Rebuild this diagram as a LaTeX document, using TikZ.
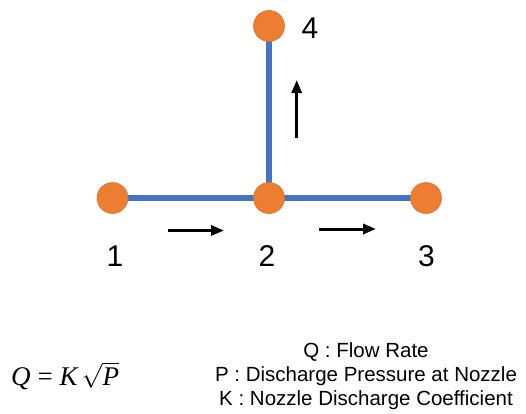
\documentclass[tikz,border=0pt]{standalone}
\usepackage{fontspec}
\setmainfont{Liberation Sans}
\newfontfamily\eqfont{Liberation Serif}
\usetikzlibrary{arrows.meta}
\pgfdeclarelayer{background}
\pgfsetlayers{background,main}
\definecolor{pipeblue}{HTML}{4472C4}
\definecolor{nodeorange}{HTML}{ED7D31}
\definecolor{nodeedge}{HTML}{DE7430}
\tikzset{
  junction/.style={circle, fill=nodeorange, draw=nodeedge, line width=0.6pt, minimum size=31pt, inner sep=0pt},
  pipe/.style={draw=pipeblue, line width=6.5pt},
  flow/.style={draw=black, line width=3pt, -{Triangle[length=13pt,width=10pt]}},
  numlabel/.style={font=\fontsize{30}{30}\selectfont, inner sep=0pt},
  legend/.style={font=\fontsize{20.5}{24}\selectfont, inner sep=0pt, align=center}
}
\begin{document}
\begin{tikzpicture}[x=1pt,y=-1pt]
\useasboundingbox (0,0) rectangle (526,413);
\node[junction] (n1) at (112.5,198) {};
\node[junction] (n2) at (269,198) {};
\node[junction] (n3) at (426,198) {};
\node[junction] (n4) at (269,26) {};
\begin{pgfonlayer}{background}
\draw[pipe] (n1.center) -- (n2.center);
\draw[pipe] (n2.center) -- (n3.center);
\draw[pipe] (n2.center) -- (n4.center);
\end{pgfonlayer}
\node[numlabel] (l1) at (115,256) {1};
\node[numlabel] (l2) at (267,256) {2};
\node[numlabel] (l3) at (426.5,256) {3};
\node[numlabel] (l4) at (310,28) {4};
\coordinate (a1s) at (168,230.5);
\coordinate (a1e) at (224,230.5);
\coordinate (a2s) at (319,229);
\coordinate (a2e) at (376,229);
\coordinate (a3s) at (296.7,138);
\coordinate (a3e) at (296.7,80);
\draw[flow] (a1s) -- (a1e);
\draw[flow] (a2s) -- (a2e);
\draw[flow] (a3s) -- (a3e);
\node[inner sep=0pt, anchor=west] (eq) at (11,376) {\fontsize{27}{27}\selectfont\eqfont $\hbox{\itshape Q}\mathrel{\hbox{=}}\hbox{\itshape K}\,\sqrt{\hbox{\itshape P}}$};
\node[legend] (lg) at (366,376.5) {Q : Flow Rate\\P : Discharge Pressure at Nozzle\\K : Nozzle Discharge Coefficient};
\end{tikzpicture}
\end{document}
